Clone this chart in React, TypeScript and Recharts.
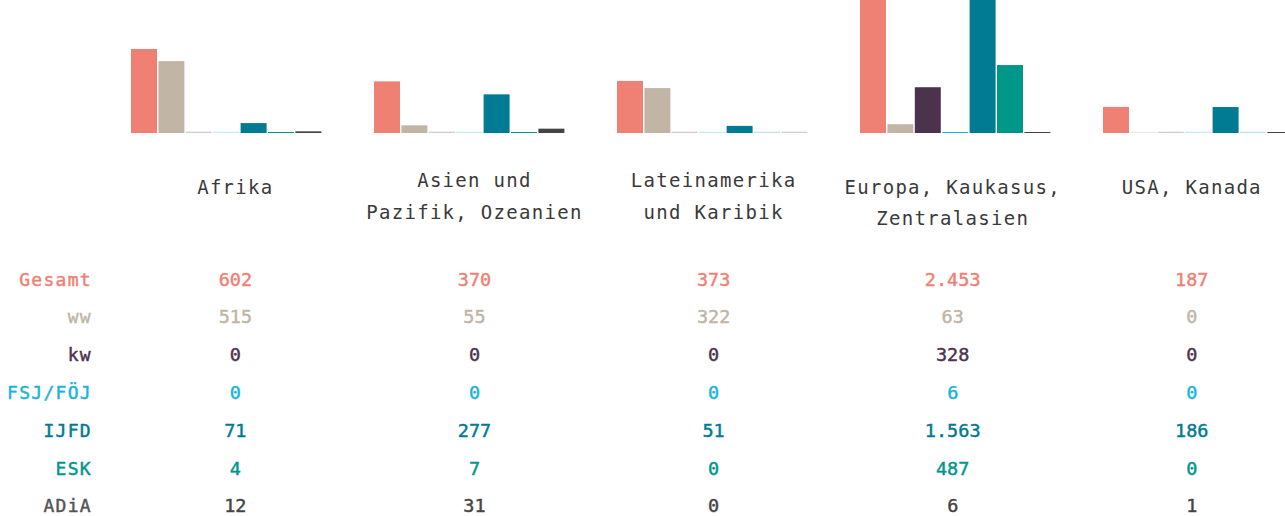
import React from "react";
import { BarChart, Bar, XAxis, YAxis } from "recharts";

// regions (categories) and their wrapped labels
const regions = [
  "Afrika",
  "Asien und Pazifik, Ozeanien",
  "Lateinamerika und Karibik",
  "Europa, Kaukasus, Zentralasien",
  "USA, Kanada",
];
const regionLines = [
  ["Afrika"],
  ["Asien und", "Pazifik, Ozeanien"],
  ["Lateinamerika", "und Karibik"],
  ["Europa, Kaukasus,", "Zentralasien"],
  ["USA, Kanada"],
];

// values per programme
const gesamt = [602, 370, 373, 2453, 187];
const ww = [515, 55, 322, 63, 0];
const kw = [0, 0, 0, 328, 0];
const fsj = [0, 0, 0, 6, 0];
const ijfd = [71, 277, 51, 1563, 186];
const esk = [4, 7, 0, 487, 0];
const adia = [12, 31, 0, 6, 1];

const series = [
  { key: "gesamt", label: "Gesamt", color: "#ef8174", values: gesamt },
  { key: "ww", label: "ww", color: "#c1b5a5", values: ww },
  { key: "kw", label: "kw", color: "#4b334e", values: kw },
  { key: "fsj", label: "FSJ/FÖJ", color: "#19b4dc", values: fsj },
  { key: "ijfd", label: "IJFD", color: "#007b93", values: ijfd },
  { key: "esk", label: "ESK", color: "#00978b", values: esk },
  { key: "adia", label: "ADiA", color: "#444444", values: adia },
];

const data = regions.map((region, i) => {
  const row: any = { region, idx: i };
  series.forEach((s) => (row[s.key] = s.values[i]));
  return row;
});

const FONT = "'DejaVu Sans Mono', monospace";
const ROW_Y0 = 279;
const ROW_STEP = 37.8;

const fmt = (v: number) => v.toLocaleString("de-DE");

// table columns sit on a slightly tighter grid than the bar bands
const colX = (x: number) => 12 + x * 0.984;

const BarShape = (props: any) => {
  const { x, y, width, height, fill } = props;
  if (!height) {
    return <rect x={x} y={y - 1.3} width={width} height={1.3} fill={fill} fillOpacity={0.25} />;
  }
  const h = Math.max(height, 1);
  return <rect x={x} y={y + height - h} width={width} height={h} fill={fill} />;
};

const Tick = (props: any) => {
  const { x, payload } = props;
  const i = payload.index;
  const lines = regionLines[i];
  const cx = colX(x);
  const firstY = lines.length > 1 && i < 3 ? 180 : 187;
  const lineStep = i < 3 ? 32 : 31;
  return (
    <g>
      {lines.map((l, k) => (
        <text
          key={k}
          x={cx}
          y={firstY + k * lineStep}
          textAnchor="middle"
          dominantBaseline="central"
          fontFamily={FONT}
          fontSize={19}
          letterSpacing={1.3}
          fill="#3a3a3a"
        >
          {l}
        </text>
      ))}
      {series.map((s, r) => (
        <text
          key={s.key}
          x={cx}
          y={ROW_Y0 + r * ROW_STEP}
          textAnchor="middle"
          dominantBaseline="central"
          fontFamily={FONT}
          fontSize={18.5}
          fill={s.color}
          stroke={s.color}
          strokeWidth={0.45}
        >
          {fmt(s.values[i])}
        </text>
      ))}
      {i === 0 &&
        series.map((s, r) => (
          <text
            key={"l" + s.key}
            x={92}
            y={ROW_Y0 + r * ROW_STEP}
            textAnchor="end"
            dominantBaseline="central"
            fontFamily={FONT}
            fontSize={18}
            letterSpacing={1.3}
            fill={s.key === "adia" ? "#555" : s.color}
            stroke={s.key === "adia" ? "#555" : s.color}
            strokeWidth={0.45}
          >
            {s.label}
          </text>
        ))}
    </g>
  );
};

export default function App() {
  return (
    <div
      style={{
        position: "absolute",
        left: 0,
        top: 0,
        width: 1285,
        height: 516,
        overflow: "hidden",
        background: "#fff",
      }}
    >
      <BarChart
        width={1330}
        height={516}
        data={data}
        margin={{ top: 0, right: 9.5, left: 105.5, bottom: 0 }}
        barCategoryGap={25.5}
        barGap={1.4}
      >
        <XAxis
          dataKey="region"
          height={383}
          interval={0}
          tickLine={false}
          axisLine={false}
          tick={<Tick />}
        />
        <YAxis hide domain={[0, 953]} allowDataOverflow />
        {series.map((s) => (
          <Bar
            key={s.key}
            dataKey={s.key}
            fill={s.color}
            shape={<BarShape />}
            isAnimationActive={false}
          />
        ))}
      </BarChart>
    </div>
  );
}
